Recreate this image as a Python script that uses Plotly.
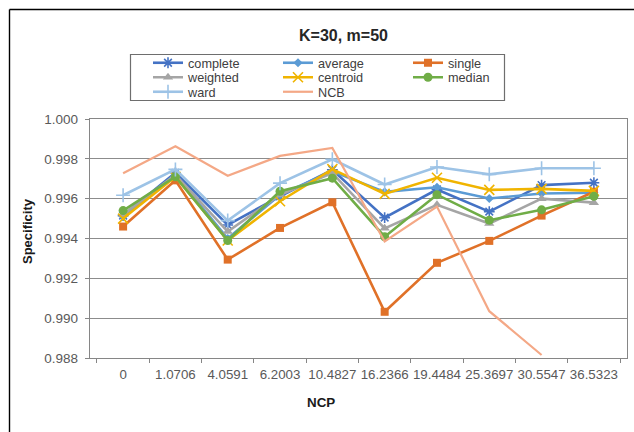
import plotly.graph_objects as go

# NCP levels (categorical x axis)
ncp = ["0", "1.0706", "4.0591", "6.2003", "10.4827", "16.2366",
       "19.4484", "25.3697", "30.5547", "36.5323"]

# Specificity per linkage method
complete = [0.99515, 0.9973, 0.99468, 0.99612, 0.99745, 0.99505, 0.99646, 0.99535, 0.99668, 0.9968]
average = [0.9951, 0.9972, 0.9940, 0.9962, 0.99737, 0.99634, 0.99657, 0.99601, 0.99626, 0.9963]
single = [0.9946, 0.99692, 0.99294, 0.99453, 0.99582, 0.99032, 0.99278, 0.99388, 0.99515, 0.99635]
weighted = [0.9952, 0.9972, 0.99435, 0.9962, 0.99728, 0.99451, 0.99569, 0.99475, 0.996, 0.9958]
centroid = [0.9950, 0.9971, 0.9939, 0.99587, 0.99748, 0.99624, 0.99705, 0.99644, 0.99649, 0.99639]
median = [0.9954, 0.9971, 0.9939, 0.99637, 0.99703, 0.99409, 0.9962, 0.99492, 0.99544, 0.99612]
ward = [0.99617, 0.99747, 0.9949, 0.99678, 0.99798, 0.99671, 0.99759, 0.99722, 0.99753, 0.99753]
ncb = [0.99728, 0.99863, 0.99715, 0.99815, 0.99855, 0.99385, 0.9956, 0.99035, 0.98815, None]

W, H = 634, 432
ML, MR, MT, MB = 90, 7, 119, 74
PW, PH = W - ML - MR, H - MT - MB
FONT = "Liberation Sans, Arial, sans-serif"


def px_x(px):
    return (px - ML) / PW


def px_y(py):
    return (H - MB - py) / PH


series = [
    ("complete", complete, "#4472C4", dict(symbol="asterisk-open", size=9, line=dict(width=1.6, color="#4472C4")), 2.6, "legend"),
    ("average", average, "#5B9BD5", dict(symbol="diamond", size=7), 2.6, "legend"),
    ("single", single, "#E07128", dict(symbol="square", size=8), 2.6, "legend"),
    ("weighted", weighted, "#A5A5A5", dict(symbol="triangle-up", size=9), 2.6, "legend2"),
    ("centroid", centroid, "#F0B400", dict(symbol="x-thin-open", size=10, line=dict(width=1.6, color="#F0B400")), 2.6, "legend2"),
    ("median", median, "#70AD47", dict(symbol="circle", size=9), 2.6, "legend2"),
    ("ward", ward, "#9DC3E6", dict(symbol="cross-thin-open", size=10, line=dict(width=1.6, color="#9DC3E6")), 2.6, "legend3"),
    ("NCB", ncb, "#F4A886", None, 2.2, "legend3"),
]

fig = go.Figure()
for name, vals, color, marker, lw, leg in series:
    kw = dict(x=ncp, y=vals, name=name, legend=leg,
              line=dict(color=color, width=lw), connectgaps=False)
    if marker is None:
        kw["mode"] = "lines"
    else:
        m = dict(marker)
        m.setdefault("color", color)
        kw["mode"] = "lines+markers"
        kw["marker"] = m
    fig.add_trace(go.Scatter(**kw))

legend_common = dict(orientation="h", xref="container", yref="container",
                     xanchor="left", yanchor="middle", entrywidth=85,
                     bgcolor="rgba(0,0,0,0)", borderwidth=0,
                     font=dict(family=FONT, size=12.7, color="#404040"),
                     itemwidth=30, tracegroupgap=0)
row_y = [63, 77.5, 92]
leg_x = 148 / W

fig.update_layout(
    width=W, height=H,
    margin=dict(l=ML, r=MR, t=MT, b=MB, autoexpand=False),
    paper_bgcolor="white", plot_bgcolor="white",
    showlegend=True,
    legend=dict(legend_common, x=leg_x, y=1 - row_y[0] / H),
    legend2=dict(legend_common, x=leg_x, y=1 - row_y[1] / H),
    legend3=dict(legend_common, x=leg_x, y=1 - row_y[2] / H),
    xaxis=dict(type="category", tickson="boundaries", ticks="outside", ticklen=4,
               tickangle=0, tickcolor="#868686", showline=True, linecolor="#868686",
               linewidth=1.3, mirror=True, showgrid=False, zeroline=False,
               ticklabelstandoff=4,
               tickfont=dict(family=FONT, size=13.3, color="#595959")),
    yaxis=dict(range=[0.988, 1.000], dtick=0.002, tickformat=".3f", ticks="outside",
               ticklen=4, tickcolor="#868686", showline=True, linecolor="#868686",
               linewidth=1.3, mirror=True, showgrid=True, gridcolor="#8C8C8C",
               gridwidth=1.3, zeroline=False, ticklabelstandoff=4,
               tickfont=dict(family=FONT, size=13.5, color="#595959")),
    annotations=[
        dict(text="<b>K=30, m=50</b>", xref="paper", yref="paper", x=px_x(343), y=px_y(36),
             xanchor="center", yanchor="middle", showarrow=False,
             font=dict(family=FONT, size=16, color="#262626")),
        dict(text="<b>Specificity</b>", xref="paper", yref="paper", x=px_x(27), y=px_y(231),
             xanchor="center", yanchor="middle", textangle=-90, showarrow=False,
             font=dict(family=FONT, size=13, color="#1a1a1a")),
        dict(text="<b>NCP</b>", xref="paper", yref="paper", x=px_x(321), y=px_y(402),
             xanchor="center", yanchor="middle", showarrow=False,
             font=dict(family=FONT, size=13.4, color="#1a1a1a")),
    ],
    shapes=[
        # legend frame
        dict(type="rect", xref="paper", yref="paper", x0=px_x(130.5), x1=px_x(504.5),
             y0=px_y(54.5), y1=px_y(100.5), line=dict(color="#6E6E6E", width=1.2),
             fillcolor="rgba(0,0,0,0)", layer="above"),
        # chart frame (top and left edges)
        dict(type="line", xref="paper", yref="paper", x0=px_x(9.5), x1=px_x(W + 5),
             y0=px_y(9.5), y1=px_y(9.5), line=dict(color="black", width=1.4)),
        dict(type="line", xref="paper", yref="paper", x0=px_x(9.5), x1=px_x(9.5),
             y0=px_y(9.5), y1=px_y(H + 5), line=dict(color="black", width=1.4)),
    ],
)

fig.write_html("out.html")
